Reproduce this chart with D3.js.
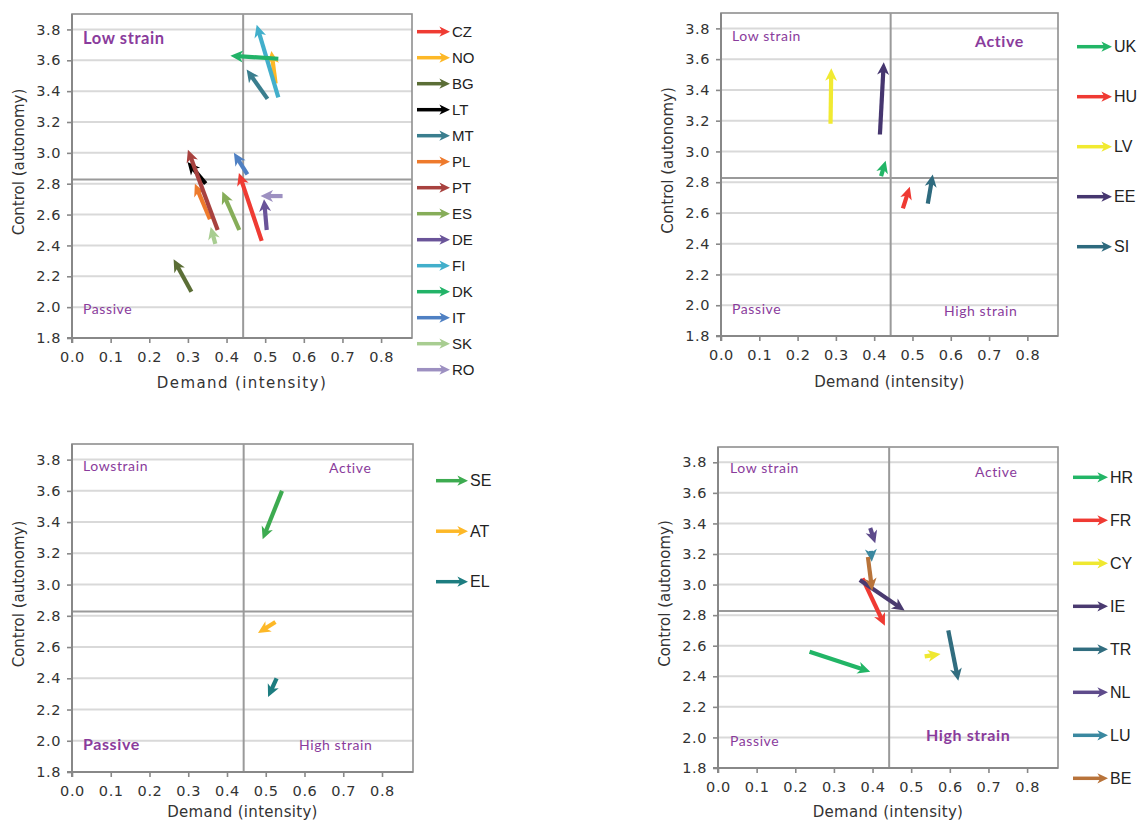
<!DOCTYPE html>
<html><head><meta charset="utf-8">
<script src="https://cdn.jsdelivr.net/npm/d3@7"></script>
<style>
body{margin:0;background:#fff;}
svg{display:block;}
</style></head>
<body>
<svg id="chart" width="1144" height="823"></svg>
<script>
// ---------- DATA ----------
const xTicks = [0.0,0.1,0.2,0.3,0.4,0.5,0.6,0.7,0.8];
const yTicks = [1.8,2.0,2.2,2.4,2.6,2.8,3.0,3.2,3.4,3.6,3.8];
const xDomain = [0, 0.88];
const yDomain = [1.8, 3.9];
const meanDemand = 0.443;
const meanControl = 2.827;
const xTitle = "Demand (intensity)";
const yTitle = "Control (autonomy)";

// Panel 1
const p1Countries = ["CZ","NO","BG","LT","MT","PL","PT","ES","DE","FI","DK","IT","SK","RO"];
const p1Colors = ["#ef3b33","#fdb827","#5b6e36","#000000","#3a7e8e","#ee7a2c","#a8423f","#86ad59","#6a5499","#42afcb","#22b368","#4f80c3","#a8cd91","#9d90c1"];
const p1DemandFrom  = [0.491,0.527,0.309,0.346,0.506,0.357,0.377,0.433,0.504,0.534,0.534,0.454,0.371,0.545];
const p1DemandTo    = [0.432,0.516,0.263,0.299,0.452,0.318,0.300,0.389,0.497,0.478,0.410,0.419,0.359,0.488];
const p1ControlFrom = [2.43,3.45,2.10,2.80,3.35,2.57,2.50,2.50,2.50,3.36,3.61,2.86,2.41,2.72];
const p1ControlTo   = [2.87,3.66,2.31,2.94,3.54,2.80,3.02,2.75,2.70,3.83,3.63,3.00,2.52,2.72];

// Panel 2
const p2Countries = ["UK","HU","LV","EE","SI"];
const p2Colors = ["#22b566","#ef3a33","#f1ea31","#46366f","#2e6a7e"];
const p2DemandFrom  = [0.418,0.475,0.286,0.415,0.540];
const p2DemandTo    = [0.430,0.493,0.288,0.425,0.553];
const p2ControlFrom = [2.84,2.63,3.18,3.11,2.66];
const p2ControlTo   = [2.94,2.77,3.54,3.58,2.85];

// Panel 3
const p3Countries = ["SE","AT","EL"];
const p3Colors = ["#3dab50","#fdb827","#1d7d80"];
const p3DemandFrom  = [0.542,0.525,0.528];
const p3DemandTo    = [0.492,0.480,0.506];
const p3ControlFrom = [3.60,2.76,2.40];
const p3ControlTo   = [3.29,2.69,2.28];

// Panel 4
const p4Countries = ["HR","FR","CY","IE","TR","NL","LU","BE"];
const p4Colors = ["#22b566","#ef3a33","#efe830","#4a3a70","#316d7f","#5e4b8b","#3a88a0","#b8733a"];
const p4DemandFrom  = [0.237,0.374,0.535,0.367,0.596,0.394,0.396,0.388];
const p4DemandTo    = [0.394,0.432,0.576,0.483,0.622,0.407,0.398,0.399];
const p4ControlFrom = [2.56,3.04,2.53,3.03,2.70,3.37,3.22,3.18];
const p4ControlTo   = [2.43,2.73,2.545,2.83,2.37,3.27,3.15,2.96];

// ---------- LAYOUT ----------
const panels = [
  {box:{x:72,y:14,w:340,h:324}, countries:p1Countries, colors:p1Colors,
   dFrom:p1DemandFrom, dTo:p1DemandTo, cFrom:p1ControlFrom, cTo:p1ControlTo,
   legend:{x:417, y:31.7, step:26.0, len:33, fs:15},
   quads:[{t:"Low strain",b:true,x:83,y:44,fs:16.5},{t:"Passive",b:false,x:83,y:314,fs:14}],
   xTitleSpacing:1.4, xTitleDy:50},
  {box:{x:721,y:13,w:337,h:323}, countries:p2Countries, colors:p2Colors,
   dFrom:p2DemandFrom, dTo:p2DemandTo, cFrom:p2ControlFrom, cTo:p2ControlTo,
   legend:{x:1077, y:46.7, step:50, len:35, fs:16},
   quads:[{t:"Low strain",b:false,x:732,y:41,fs:14},{t:"Active",b:true,x:975,y:47,fs:16},
          {t:"Passive",b:false,x:732,y:314,fs:14},{t:"High strain",b:false,x:944,y:316,fs:14}],
   xTitleSpacing:0.3, xTitleDy:51},
  {box:{x:72,y:444,w:341,h:328}, countries:p3Countries, colors:p3Colors,
   dFrom:p3DemandFrom, dTo:p3DemandTo, cFrom:p3ControlFrom, cTo:p3ControlTo,
   legend:{x:436, y:480.7, step:50.5, len:32, fs:16},
   quads:[{t:"Lowstrain",b:false,x:83,y:471,fs:14},{t:"Active",b:false,x:329,y:473,fs:14},
          {t:"Passive",b:true,x:83,y:750,fs:16},{t:"High strain",b:false,x:299,y:750,fs:14}],
   xTitleSpacing:0.3, xTitleDy:45},
  {box:{x:718,y:447,w:340,h:321}, countries:p4Countries, colors:p4Colors,
   dFrom:p4DemandFrom, dTo:p4DemandTo, cFrom:p4ControlFrom, cTo:p4ControlTo,
   legend:{x:1073, y:477.3, step:43, len:35, fs:16},
   quads:[{t:"Low strain",b:false,x:730,y:473,fs:14},{t:"Active",b:false,x:975,y:477,fs:14},
          {t:"Passive",b:false,x:730,y:746,fs:14},{t:"High strain",b:true,x:926,y:741,fs:16}],
   xTitleSpacing:0.3, xTitleDy:49}
];

const svg = d3.select("#chart");
const defs = svg.append("defs");
const axisFont = "'DejaVu Sans', Verdana, sans-serif";
const quadFont = "Lato, 'Open Sans', sans-serif";
const legendFont = "'Liberation Sans', Arial, sans-serif";
const quadColor = "#8a3c9c";
const HEAD_GAP = 7;

let markerId = 0;
function makeMarker(color, size){
  const id = "m" + (markerId++);
  const m = defs.append("marker").attr("id", id)
    .attr("markerUnits","userSpaceOnUse")
    .attr("viewBox","-14 -8 24 16")
    .attr("refX",1-HEAD_GAP).attr("refY",0)
    .attr("markerWidth",24*size).attr("markerHeight",16*size)
    .attr("orient","auto");
  m.append("path").attr("d","M1,0 L-11.5,-6 L-8,0 L-11.5,6 Z").attr("fill",color);
  return id;
}

function shorten(x1,y1,x2,y2,d){
  const L = Math.hypot(x2-x1,y2-y1);
  if (L < 1e-6) return [x2,y2];
  const k = Math.max(0.02,(L-d)/L);
  return [x1+(x2-x1)*k, y1+(y2-y1)*k];
}

panels.forEach(p => {
  const b = p.box;
  const x = d3.scaleLinear().domain(xDomain).range([b.x, b.x+b.w]);
  const y = d3.scaleLinear().domain(yDomain).range([b.y+b.h, b.y]);
  const g = svg.append("g");

  // gridlines
  g.append("g").selectAll("line").data(yTicks.filter(v=>v>1.8)).join("line")
    .attr("x1",b.x).attr("x2",b.x+b.w)
    .attr("y1",d=>y(d)).attr("y2",d=>y(d))
    .attr("stroke","#d9d9d9").attr("stroke-width",2);

  // border
  g.append("rect").attr("x",b.x).attr("y",b.y).attr("width",b.w).attr("height",b.h)
    .attr("fill","none").attr("stroke","#8f8f8f").attr("stroke-width",1.6);

  // mean lines
  g.append("line").attr("x1",x(meanDemand)).attr("x2",x(meanDemand))
    .attr("y1",b.y).attr("y2",b.y+b.h).attr("stroke","#9a9a9a").attr("stroke-width",2);
  g.append("line").attr("x1",b.x).attr("x2",b.x+b.w)
    .attr("y1",y(meanControl)).attr("y2",y(meanControl)).attr("stroke","#9a9a9a").attr("stroke-width",2);

  // axes
  const xa = g.append("g").attr("transform",`translate(0,${b.y+b.h})`)
    .call(d3.axisBottom(x).tickValues(xTicks).tickFormat(d3.format(".1f")).tickSize(5).tickPadding(9));
  const ya = g.append("g").attr("transform",`translate(${b.x},0)`)
    .call(d3.axisLeft(y).tickValues(yTicks).tickFormat(d3.format(".1f")).tickSize(5).tickPadding(6));
  [xa,ya].forEach(a=>{
    a.select(".domain").attr("stroke","#888").attr("stroke-width",2);
    a.selectAll(".tick line").attr("stroke","#888").attr("stroke-width",1.6);
    a.selectAll(".tick text").attr("font-family",axisFont).attr("font-size",14.5)
      .attr("fill","#333").attr("letter-spacing",0.6);
  });
  ya.select(".domain").attr("d",`M-5,${b.y+b.h}H0V${b.y}`);
  xa.select(".domain").attr("d",`M${b.x},5V0H${b.x+b.w}`);

  // titles
  g.append("text").attr("x",b.x+b.w/2).attr("y",b.y+b.h+p.xTitleDy)
    .attr("text-anchor","middle").attr("font-family",axisFont).attr("font-size",15)
    .attr("letter-spacing",p.xTitleSpacing).attr("fill","#333").text(xTitle);
  g.append("text").attr("transform",`translate(${b.x-53},${b.y+b.h/2-14}) rotate(-90)`)
    .attr("text-anchor","middle").attr("dominant-baseline","central")
    .attr("font-family",axisFont).attr("font-size",15).attr("fill","#333").text(yTitle);

  // quadrant labels
  g.append("g").selectAll("text").data(p.quads).join("text")
    .attr("x",d=>d.x).attr("y",d=>d.y)
    .attr("font-family",quadFont).attr("font-size",d=>d.fs)
    .attr("font-weight",d=>d.b?"bold":"normal")
    .attr("letter-spacing",0.6)
    .attr("fill",quadColor).text(d=>d.t);

  // arrows
  const rows = p.countries.map((c,i)=>({c, color:p.colors[i],
    x1:x(p.dFrom[i]), y1:y(p.cFrom[i]), x2:x(p.dTo[i]), y2:y(p.cTo[i])}));
  rows.forEach(r=>{
    const id = makeMarker(r.color, 1);
    const [ex,ey] = shorten(r.x1,r.y1,r.x2,r.y2,HEAD_GAP);
    g.append("line").attr("x1",r.x1).attr("y1",r.y1).attr("x2",ex).attr("y2",ey)
      .attr("stroke",r.color).attr("stroke-width",4.2)
      .attr("marker-end",`url(#${id})`);
  });

  // legend
  const lg = g.append("g");
  rows.forEach((r,i)=>{
    const ly = p.legend.y + i*p.legend.step;
    const s = 0.85;
    const id = makeMarker(r.color, s);
    lg.append("line").attr("x1",p.legend.x).attr("x2",p.legend.x+p.legend.len-HEAD_GAP*s)
      .attr("y1",ly).attr("y2",ly).attr("stroke",r.color).attr("stroke-width",3.5)
      .attr("marker-end",`url(#${id})`);
    lg.append("text").attr("x",p.legend.x+p.legend.len+2).attr("y",ly)
      .attr("dominant-baseline","central")
      .attr("font-family",legendFont).attr("font-size",p.legend.fs).attr("fill","#222")
      .text(r.c);
  });
});
</script>
</body></html>
